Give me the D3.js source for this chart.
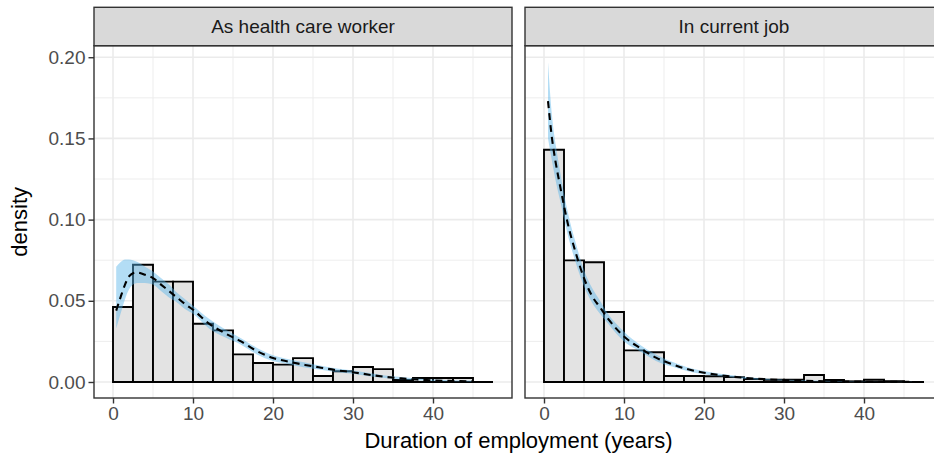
<!DOCTYPE html>
<html>
<head>
<meta charset="utf-8">
<script src="https://cdn.jsdelivr.net/npm/d3@7"></script>
<style>
  body { margin: 0; background: #fff; }
  text { font-family: "Liberation Sans", Arial, sans-serif; }
</style>
</head>
<body>
<svg id="chart"></svg>
<script>
// facets
const panels = ["As health care worker", "In current job"];

// histogram: bins of 2.5 years starting at 0
const binWidth = 2.5;
const hcwDensity = [0.0462, 0.0722, 0.0618, 0.0618, 0.0359, 0.0318, 0.0170, 0.0117, 0.0107, 0.0147,
                    0.0037, 0.0066, 0.0092, 0.0079, 0.0012, 0.0025, 0.0025, 0.0025, 0];
const jobDensity = [0.1430, 0.0749, 0.0737, 0.0431, 0.0195, 0.0183, 0.0037, 0.0037, 0.0035, 0.0030,
                    0.0018, 0.0014, 0.0014, 0.0043, 0.0012, 0.0004, 0.0014, 0.0005, 0];

// fitted density (dashed) and its band
const hcwFitX  = [0.4, 1, 1.5, 2, 2.5, 3, 4, 5, 6, 7, 8, 9, 10, 12, 14, 16, 18, 20, 22, 24, 26, 28, 30, 32, 34, 36, 38, 40, 42, 45];
const hcwFit   = [0.044, 0.053, 0.060, 0.065, 0.067, 0.0675, 0.066, 0.064, 0.060, 0.056, 0.052, 0.048, 0.0445, 0.036, 0.030, 0.025, 0.019, 0.0148, 0.0125, 0.0105, 0.0088, 0.0072, 0.0060, 0.0045, 0.0032, 0.0022, 0.0015, 0.0010, 0.0007, 0.0004];
const hcwUpper = [0.071, 0.074, 0.0755, 0.0755, 0.075, 0.074, 0.071, 0.068, 0.064, 0.060, 0.055, 0.051, 0.047, 0.039, 0.0325, 0.027, 0.021, 0.0165, 0.014, 0.012, 0.010, 0.0083, 0.007, 0.0055, 0.004, 0.003, 0.0021, 0.0015, 0.0011, 0.0007];
const hcwLower = [0.033, 0.043, 0.051, 0.057, 0.060, 0.061, 0.061, 0.060, 0.056, 0.052, 0.049, 0.045, 0.042, 0.033, 0.0275, 0.023, 0.017, 0.013, 0.011, 0.009, 0.0075, 0.006, 0.005, 0.0035, 0.0024, 0.0015, 0.001, 0.0006, 0.0004, 0.0002];

const jobFitX  = [0.5, 1, 1.5, 2, 3, 4, 5, 6, 7, 8, 9, 10, 12, 14, 16, 18, 20, 22, 25, 28, 30, 35, 40, 46];
const jobFit   = [0.173, 0.150, 0.134, 0.121, 0.097, 0.079, 0.064, 0.053, 0.046, 0.039, 0.033, 0.028, 0.021, 0.015, 0.011, 0.0078, 0.0057, 0.0042, 0.0026, 0.0016, 0.0012, 0.0005, 0.0002, 0.0001];
const jobUpper = [0.197, 0.164, 0.145, 0.130, 0.104, 0.085, 0.069, 0.058, 0.050, 0.042, 0.036, 0.031, 0.023, 0.017, 0.0125, 0.009, 0.0067, 0.005, 0.0032, 0.002, 0.0015, 0.0007, 0.0003, 0.0001];
const jobLower = [0.150, 0.136, 0.123, 0.112, 0.090, 0.073, 0.059, 0.049, 0.042, 0.036, 0.030, 0.025, 0.019, 0.013, 0.0095, 0.0066, 0.0048, 0.0035, 0.002, 0.0012, 0.0009, 0.0003, 0.0001, 0.00005];

const xTicks = [0, 10, 20, 30, 40];
const xMinor = [5, 15, 25, 35, 45];
const yTicks = [0, 0.05, 0.10, 0.15, 0.20];
const yMinor = [0.025, 0.075, 0.125, 0.175];

const panelData = [
  {bars: hcwDensity, fx: hcwFitX, fit: hcwFit, lo: hcwLower, hi: hcwUpper},
  {bars: jobDensity, fx: jobFitX, fit: jobFit, lo: jobLower, hi: jobUpper}
];

const width = 934, height = 462;
const panelLeft = [94, 525], panelW = 418;
const stripTop = 7.3, panelTop = 45.7, panelBottom = 398;

const svg = d3.select("#chart").attr("width", width).attr("height", height);

const x = d3.scaleLinear().domain([-2.375, 49.875]).range([0, panelW]);
const y = d3.scaleLinear().domain([-0.00986, 0.2071]).range([panelBottom, panelTop]);

panels.forEach(function(name, i) {
  const d = panelData[i];
  const g = svg.append("g").attr("transform", "translate(" + panelLeft[i] + ",0)");

  g.append("clipPath").attr("id", "clip" + i)
    .append("rect").attr("x", 0).attr("y", panelTop).attr("width", panelW).attr("height", panelBottom - panelTop);

  const inner = g.append("g").attr("clip-path", "url(#clip" + i + ")");
  inner.append("rect").attr("x", 0).attr("y", panelTop)
    .attr("width", panelW).attr("height", panelBottom - panelTop).attr("fill", "#fff");

  // grid
  inner.selectAll(".vminor").data(xMinor).enter().append("line")
    .attr("x1", v => x(v)).attr("x2", v => x(v)).attr("y1", panelTop).attr("y2", panelBottom)
    .attr("stroke", "#EBEBEB").attr("stroke-width", 0.9);
  inner.selectAll(".hminor").data(yMinor).enter().append("line")
    .attr("x1", 0).attr("x2", panelW).attr("y1", v => y(v)).attr("y2", v => y(v))
    .attr("stroke", "#EBEBEB").attr("stroke-width", 0.9);
  inner.selectAll(".vmajor").data(xTicks).enter().append("line")
    .attr("x1", v => x(v)).attr("x2", v => x(v)).attr("y1", panelTop).attr("y2", panelBottom)
    .attr("stroke", "#EBEBEB").attr("stroke-width", 1.6);
  inner.selectAll(".hmajor").data(yTicks).enter().append("line")
    .attr("x1", 0).attr("x2", panelW).attr("y1", v => y(v)).attr("y2", v => y(v))
    .attr("stroke", "#EBEBEB").attr("stroke-width", 1.6);

  // histogram (paths so that empty bins still show as a line on the baseline)
  inner.selectAll(".bar").data(d.bars).enter().append("path")
    .attr("d", (v, k) => {
      const x0 = x(k * binWidth), x1 = x((k + 1) * binWidth);
      return "M" + x0 + "," + y(0) + "V" + y(v) + "H" + x1 + "V" + y(0) + "Z";
    })
    .attr("fill", "#E3E3E3").attr("stroke", "#000").attr("stroke-width", 1.9);

  const idx = d3.range(d.fx.length);
  inner.append("path")
    .attr("d", d3.area().x(k => x(d.fx[k])).y0(k => y(d.lo[k])).y1(k => y(d.hi[k])).curve(d3.curveMonotoneX)(idx))
    .attr("fill", "#56B4E9").attr("fill-opacity", 0.45);

  inner.append("path")
    .attr("d", d3.line().x(k => x(d.fx[k])).y(k => y(d.fit[k])).curve(d3.curveMonotoneX)(idx))
    .attr("fill", "none").attr("stroke", "#000").attr("stroke-width", 2.1)
    .attr("stroke-dasharray", "7,5");

  // panel border
  g.append("rect").attr("x", 0).attr("y", panelTop)
    .attr("width", panelW).attr("height", panelBottom - panelTop)
    .attr("fill", "none").attr("stroke", "#333").attr("stroke-width", 1.4);

  // strip
  g.append("rect").attr("x", 0).attr("y", stripTop)
    .attr("width", panelW).attr("height", panelTop - stripTop)
    .attr("fill", "#D9D9D9").attr("stroke", "#333").attr("stroke-width", 1.4);
  g.append("text").attr("x", i === 0 ? panelW / 2 : (width - panelLeft[1]) / 2 + 4.5)
    .attr("y", (stripTop + panelTop) / 2).attr("dy", "0.35em")
    .attr("text-anchor", "middle").attr("font-size", 19).attr("fill", "#1A1A1A")
    .text(name);

  // x axis
  const ax = g.append("g").attr("transform", "translate(0," + panelBottom + ")")
    .call(d3.axisBottom(x).tickValues(xTicks).tickSize(5.5).tickPadding(3).tickFormat(d3.format("d")));
  ax.select(".domain").remove();
  ax.selectAll("line").attr("stroke", "#333").attr("stroke-width", 1.4);
  ax.selectAll("text").attr("font-size", 19).attr("fill", "#4D4D4D")
    .style("font-family", '"Liberation Sans", Arial, sans-serif');
});

// y axis
const ay = svg.append("g").attr("transform", "translate(" + panelLeft[0] + ",0)")
  .call(d3.axisLeft(y).tickValues(yTicks).tickSize(5.5).tickPadding(3).tickFormat(d3.format(".2f")));
ay.select(".domain").remove();
ay.selectAll("line").attr("stroke", "#333").attr("stroke-width", 1.4);
ay.selectAll("text").attr("font-size", 19).attr("fill", "#4D4D4D")
  .style("font-family", '"Liberation Sans", Arial, sans-serif');

// titles
svg.append("text").attr("x", (panelLeft[0] + panelLeft[1] + panelW) / 2).attr("y", 448)
  .attr("text-anchor", "middle").attr("font-size", 22).attr("fill", "#000")
  .text("Duration of employment (years)");
svg.append("text").attr("transform", "translate(27," + (panelTop + panelBottom) / 2 + ") rotate(-90)")
  .attr("text-anchor", "middle").attr("font-size", 22).attr("fill", "#000")
  .text("density");
</script>
</body>
</html>
